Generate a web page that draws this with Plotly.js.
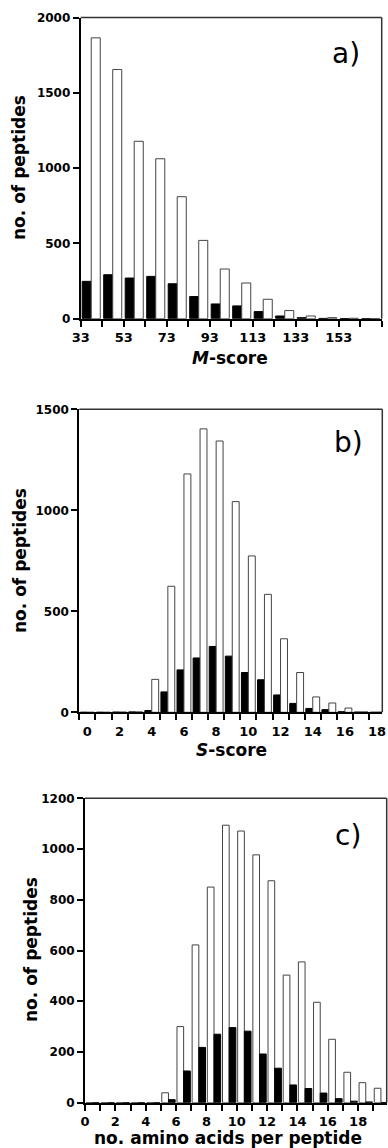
<!DOCTYPE html>
<html>
<head>
<meta charset="utf-8">
<script src="https://cdn.plot.ly/plotly-3.0.1.min.js"></script>
<style>html,body{margin:0;padding:0;background:#fff;}#chart{width:388px;height:1148px;}</style>
</head>
<body>
<div id="chart"></div>
<script>
// ---- Panel a: M-score bins (lower edge of each 10-unit bin) ----
const mBins  = [33, 43, 53, 63, 73, 83, 93, 103, 113, 123, 133, 143, 153, 163];
const mBlack = [248, 292, 270, 281, 232, 147, 98, 85, 47, 18, 7, 2, 1, 0];
const mWhite = [1865, 1655, 1178, 1062, 810, 520, 330, 237, 129, 54, 18, 7, 3, 1];
const mTickVals = [33, 43, 53, 63, 73, 83, 93, 103, 113, 123, 133, 143, 153, 163, 173];
const mTickText = ['33', '', '53', '', '73', '', '93', '', '113', '', '133', '', '153', '', ''];

// ---- Panel b: S-score ----
const sBins  = [0, 1, 2, 3, 4, 5, 6, 7, 8, 9, 10, 11, 12, 13, 14, 15, 16, 17, 18];
const sBlack = [0, 0, 1, 2, 9, 101, 210, 269, 326, 278, 197, 161, 86, 44, 19, 13, 3, 1, 0];
const sWhite = [0, 0, 1, 2, 163, 624, 1180, 1403, 1343, 1043, 774, 584, 364, 197, 76, 46, 21, 2, 1];
const sTickVals = [-0.5, 0.5, 1.5, 2.5, 3.5, 4.5, 5.5, 6.5, 7.5, 8.5, 9.5, 10.5, 11.5, 12.5, 13.5, 14.5, 15.5, 16.5, 17.5];
const sTickText = ['0', '', '2', '', '4', '', '6', '', '8', '', '10', '', '12', '', '14', '', '16', '', '18'];

// ---- Panel c: amino acids per peptide ----
const cBins  = [0, 1, 2, 3, 4, 5, 6, 7, 8, 9, 10, 11, 12, 13, 14, 15, 16, 17, 18, 19];
const cWhite = [0, 0, 0, 0, 0, 39, 300, 622, 850, 1094, 1071, 977, 875, 503, 555, 396, 250, 120, 79, 57];
const cBlack = [0, 0, 0, 0, 0, 12, 125, 218, 270, 296, 282, 192, 136, 70, 56, 38, 16, 6, 3, 1];
const cTickVals = [-0.5, 0.5, 1.5, 2.5, 3.5, 4.5, 5.5, 6.5, 7.5, 8.5, 9.5, 10.5, 11.5, 12.5, 13.5, 14.5, 15.5, 16.5, 17.5, 18.5];
const cTickText = ['0', '', '2', '', '4', '', '6', '', '8', '', '10', '', '12', '', '14', '', '16', '', '18', ''];

const W = 388, H = 1148;
const px = v => v / W;
const py = v => 1 - v / H;

const blackBar = {type: 'bar', marker: {color: '#000', line: {color: '#000', width: 1}}, hoverinfo: 'skip', showlegend: false};
const whiteBar = {type: 'bar', marker: {color: '#fff', line: {color: '#444', width: 1}}, hoverinfo: 'skip', showlegend: false};

const data = [
  Object.assign({}, blackBar, {x: mBins, y: mBlack, width: 4.2, offset: 0.7, xaxis: 'x', yaxis: 'y'}),
  Object.assign({}, whiteBar, {x: mBins, y: mWhite, width: 4.2, offset: 4.9, xaxis: 'x', yaxis: 'y'}),
  Object.assign({}, blackBar, {x: sBins, y: sBlack, width: 0.43, offset: -0.43, xaxis: 'x2', yaxis: 'y2'}),
  Object.assign({}, whiteBar, {x: sBins, y: sWhite, width: 0.43, offset: 0, xaxis: 'x2', yaxis: 'y2'}),
  Object.assign({}, whiteBar, {x: cBins, y: cWhite, width: 0.44, offset: -0.44, xaxis: 'x3', yaxis: 'y3'}),
  Object.assign({}, blackBar, {x: cBins, y: cBlack, width: 0.44, offset: 0, xaxis: 'x3', yaxis: 'y3'})
];

const fam = 'DejaVu Sans, Liberation Sans, Arial, sans-serif';
const xTickFont = {family: fam, size: 13, color: '#000', weight: 'bold'};
const yTickFont = {family: fam, size: 12, color: '#000', weight: 'bold'};

function xax(domain, range, vals, text, shift, anchor) {
  return {domain: domain, range: range, anchor: anchor, showgrid: false, zeroline: false,
    showline: true, linecolor: '#000', linewidth: 2, ticks: 'outside', ticklen: 6, tickwidth: 2,
    tickcolor: '#000', tickmode: 'array', tickvals: vals, ticktext: text, tickfont: xTickFont,
    ticklabelshift: shift, fixedrange: true};
}
function yax(domain, range, dtick, anchor) {
  return {domain: domain, range: range, anchor: anchor, showgrid: false, zeroline: false,
    showline: true, linecolor: '#000', linewidth: 2, ticks: 'outside', ticklen: 6, tickwidth: 2,
    tickcolor: '#000', tickmode: 'linear', tick0: 0, dtick: dtick, tickfont: yTickFont, fixedrange: true};
}

const frame = (xr, yr) => [
  {type: 'line', xref: xr + ' domain', yref: yr + ' domain', x0: 0, x1: 1, y0: 1, y1: 1, line: {color: '#333', width: 1.5}},
  {type: 'line', xref: xr + ' domain', yref: yr + ' domain', x0: 1, x1: 1, y0: 0, y1: 1, line: {color: '#333', width: 1.5}}
];

const titleFont = {family: fam, size: 17, color: '#000', weight: 'bold'};
const panelFont = {family: fam, size: 28, color: '#000'};

const ann = (text, x, y, font, extra) => Object.assign({text: text, x: px(x), y: py(y), xref: 'paper', yref: 'paper',
  showarrow: false, font: font, xanchor: 'center', yanchor: 'middle'}, extra || {});

const layout = {
  width: W, height: H,
  margin: {l: 0, r: 0, t: 0, b: 0},
  paper_bgcolor: '#fff', plot_bgcolor: '#fff',
  barmode: 'overlay',
  showlegend: false,
  xaxis:  xax([px(80.7), px(381.7)], [33, 173], mTickVals, mTickText, 0, 'y'),
  yaxis:  yax([py(318.7), py(17.5)], [0, 2000], 500, 'x'),
  xaxis2: xax([px(79.3), px(382.3)], [-0.5, 18.32], sTickVals, sTickText, 8, 'y2'),
  yaxis2: yax([py(712.3), py(409.3)], [0, 1500], 500, 'x2'),
  xaxis3: xax([px(85), px(386.7)], [-0.5, 19.38], cTickVals, cTickText, 7.6, 'y3'),
  yaxis3: yax([py(1102.7), py(798.3)], [0, 1200], 200, 'x3'),
  shapes: [].concat(frame('x', 'y'), frame('x2', 'y2'), frame('x3', 'y3')),
  annotations: [
    ann('a)', 361.7, 54, panelFont, {xanchor: 'right'}),
    ann('b)', 365, 442, panelFont, {xanchor: 'right'}),
    ann('c)', 363, 835, panelFont, {xanchor: 'right'}),
    ann('<i>M</i>-score', 230, 358, titleFont),
    ann('<i>S</i>-score', 231.7, 750, titleFont),
    ann('no. amino acids per peptide', 228, 1138, titleFont),
    ann('no. of peptides', 19, 168, titleFont, {textangle: -90}),
    ann('no. of peptides', 20, 561, titleFont, {textangle: -90}),
    ann('no. of peptides', 31, 950, titleFont, {textangle: -90})
  ]
};

Plotly.newPlot('chart', data, layout, {staticPlot: true, displayModeBar: false});
</script>
</body>
</html>
